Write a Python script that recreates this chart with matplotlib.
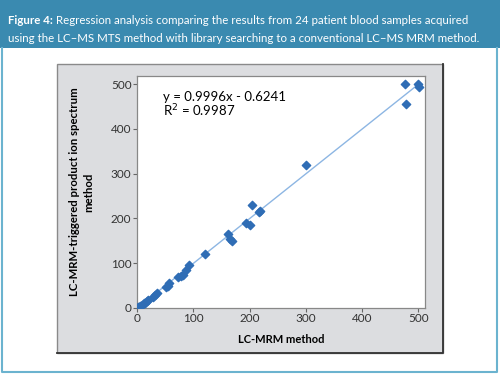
import numpy as np
import matplotlib.pyplot as plt
from matplotlib.patches import Rectangle

# LC-MRM method (x) vs LC-MRM-triggered product ion spectrum method (y)
lcmrm = [2, 4, 6, 8, 12, 14, 18, 20, 28, 32, 35, 52, 55, 57, 73, 78, 82, 87, 92,
         120, 161, 165, 168, 194, 200, 204, 216, 219, 300, 477, 478, 500, 502]
triggered = [1, 3, 5, 7, 10, 12, 15, 18, 25, 29, 33, 47, 50, 55, 68, 72, 74, 85, 95,
             121, 165, 155, 150, 190, 185, 230, 214, 217, 319, 500, 455, 500, 493]
slope = 0.9996
intercept = -0.6241
r2 = 0.9987
ticks = [0, 100, 200, 300, 400, 500]

teal = '#3a8ab0'
plt.rcParams['font.family'] = ['Lato', 'DejaVu Sans']

fig = plt.figure(figsize=(5, 3.76), dpi=100)

# background: header bar, frame, gray panel
bg = fig.add_axes([0, 0, 1, 1], zorder=-1)
bg.set_xlim(0, 1)
bg.set_ylim(0, 1)
bg.axis('off')
bg.add_patch(Rectangle((0, 0.872), 1, 0.128, facecolor=teal, edgecolor='none'))
bg.plot([0.004, 0.004, 0.993, 0.993], [0.872, 0.01, 0.01, 0.872], color='#6bb3cf', lw=1.5)
bg.add_patch(Rectangle((0.114, 0.061), 0.772, 0.769, facecolor='#dcdde0',
                       edgecolor='#8a8a8a', lw=1))
bg.plot([0.114, 0.886, 0.886], [0.061, 0.061, 0.83], color='#333333', lw=1.3)

# title: shrink font so the second line fits like in the reference
line2 = 'using the LC\u2013MS MTS method with library searching to a conventional LC\u2013MS MRM method.'
fs = 9.6
t2 = fig.text(0.016, 0.897, line2, color='white', fontsize=fs, va='center')
fig.canvas.draw()
w = t2.get_window_extent().width / fig.bbox.width
fs = fs * 0.95 / w
t2.set_fontsize(fs)

t1 = fig.text(0.016, 0.945, 'Figure 4:', color='white', fontsize=fs,
              fontweight='bold', va='center')
fig.canvas.draw()
bb = t1.get_window_extent().transformed(fig.transFigure.inverted())
fig.text(bb.x1 + 0.007, 0.945,
         'Regression analysis comparing the results from 24 patient blood samples acquired',
         color='white', fontsize=fs, va='center')

ax = fig.add_axes([0.274, 0.181, 0.576, 0.617])
ax.set_facecolor('white')

xs = np.array([0, 500])
ax.plot(xs, slope * xs + intercept, color='#8db6e3', lw=1)
ax.scatter(lcmrm, triggered, marker='D', s=18, color='#2f6db5', zorder=3)

ax.set_xlim(0, 512)
ax.set_ylim(0, 518)
ax.set_xticks(ticks)
ax.set_yticks(ticks)
ax.tick_params(labelsize=8.5, length=3, color='#666666', labelcolor='#333333', pad=1)
for s in ax.spines.values():
    s.set_color('#888888')
    s.set_linewidth(0.9)

ax.text(0.09, 0.91, 'y = 0.9996x - 0.6241', transform=ax.transAxes, fontsize=9.5, va='center')
ax.text(0.09, 0.85, 'R$^2$ = 0.9987', transform=ax.transAxes, fontsize=9.5, va='center')

ax.set_xlabel('LC-MRM method', fontsize=8, fontweight='bold', labelpad=7)
ax.set_ylabel('LC-MRM-triggered product ion spectrum\nmethod', fontsize=8.2,
              fontweight='bold', labelpad=12, linespacing=1.3)

fig.savefig('out.png', dpi=100)
